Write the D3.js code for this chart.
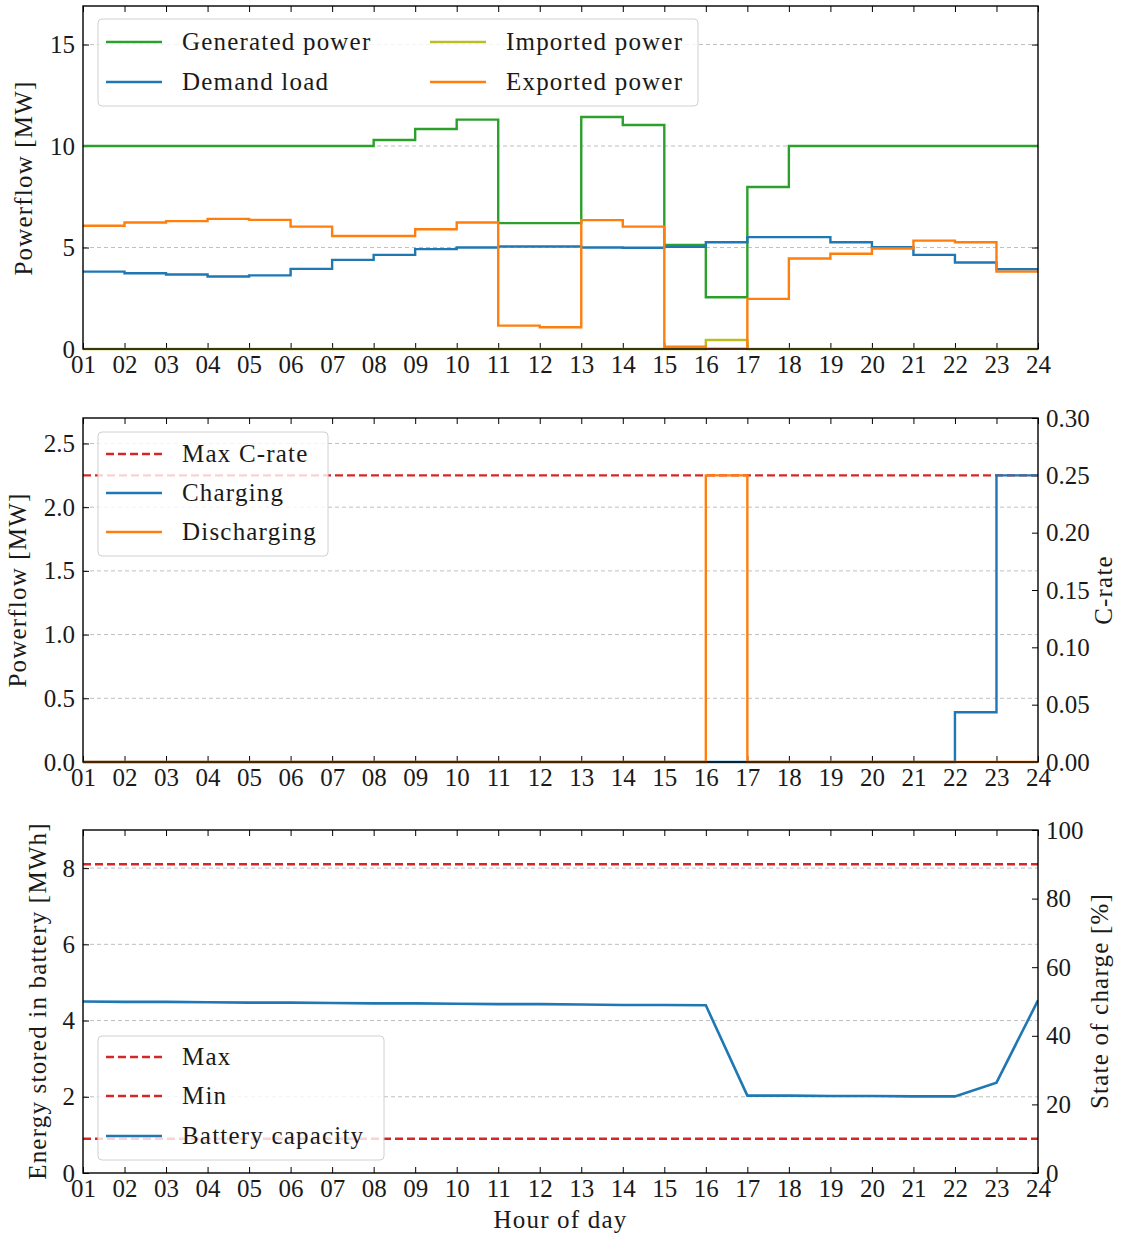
<!DOCTYPE html>
<head>
    <script src="https://d3js.org/d3.v7.min.js"></script>
    <style>
        body { margin: 0; background: #fff; }
        text { font-family: "Liberation Serif", "DejaVu Serif", serif; fill: #1a1a1a; }
        .lbl { letter-spacing: 1.2px; }
    </style>
</head>

<body>
    <div id="chart"></div>
</body>

<script>
    // hours on the x axis
    const hours = [1,2,3,4,5,6,7,8,9,10,11,12,13,14,15,16,17,18,19,20,21,22,23,24];

    // panel 1: powerflow [MW]
    const generated = [10,10,10,10,10,10,10,10.3,10.84,11.3,6.2,6.2,11.43,11.04,5.13,2.55,7.98,10,10,10,10,10,10,10];
    const demand    = [3.81,3.73,3.67,3.57,3.63,3.95,4.39,4.64,4.92,5.0,5.05,5.05,5.0,4.99,5.03,5.26,5.51,5.51,5.26,5.02,4.64,4.26,3.93,3.93];
    const imported  = [0,0,0,0,0,0,0,0,0,0,0,0,0,0,0,0.44,0,0,0,0,0,0,0,0];
    const exported  = [6.07,6.23,6.30,6.41,6.36,6.03,5.57,5.57,5.90,6.23,1.15,1.07,6.35,6.03,0.11,0.02,2.47,4.46,4.69,4.95,5.34,5.26,3.81,3.81];

    // panel 2: battery charge / discharge [MW]
    const charging    = [0,0,0,0,0,0,0,0,0,0,0,0,0,0,0,0,0,0,0,0,0,0.39,2.25,2.25];
    const discharging = [0,0,0,0,0,0,0,0,0,0,0,0,0,0,0,2.25,0,0,0,0,0,0,0,0];
    const maxCrate = 2.25;

    // panel 3: energy stored [MWh]
    const energy = [4.50,4.49,4.49,4.48,4.47,4.47,4.46,4.45,4.45,4.44,4.43,4.43,4.42,4.41,4.41,4.40,2.03,2.03,2.02,2.02,2.01,2.01,2.37,4.53];
    const energyMax = 8.1;
    const energyMin = 0.9;

    // tick labels
    const p1Ticks = [0,5,10,15];
    const p2Ticks = [0,0.5,1.0,1.5,2.0,2.5];
    const p2RightTicks = [0,0.05,0.10,0.15,0.20,0.25,0.30];
    const p3Ticks = [0,2,4,6,8];
    const p3RightTicks = [0,20,40,60,80,100];

    const C = {green: "#2ca02c", blue: "#1f77b4", olive: "#bcbd22", orange: "#ff7f0e", red: "#d62728"};
    const W = 1126, H = 1236;
    const left = 83, right = 1038;
    const fs = 25;

    const svg = d3.select("#chart").append("svg")
        .attr("width", W).attr("height", H);

    const x = d3.scaleLinear().domain([1, 24]).range([left, right]);

    function panel(top, bottom, yDomain, yTicks, yFmt, opts) {
        const g = svg.append("g");
        const y = d3.scaleLinear().domain(yDomain).range([bottom, top]);
        const id = "clip" + top;
        svg.append("clipPath").attr("id", id).append("rect")
            .attr("x", left).attr("y", top - 2).attr("width", right - left).attr("height", bottom - top + 4);

        // grid
        g.append("g").selectAll("line").data(yTicks.filter(d => d > 0)).join("line")
            .attr("x1", left).attr("x2", right)
            .attr("y1", d => y(d)).attr("y2", d => y(d))
            .attr("stroke", "#b8b8b8").attr("stroke-width", 0.9).attr("stroke-dasharray", "4,3");

        // axes: ticks inward
        const ax = g.append("g");
        ax.append("g").attr("transform", `translate(0,${bottom})`)
            .call(d3.axisBottom(x).tickValues(hours).tickSize(-6).tickPadding(6).tickFormat(d3.format("02d")));
        ax.append("g").attr("transform", `translate(0,${top})`)
            .call(d3.axisTop(x).tickValues(hours).tickSize(-6).tickFormat(""));
        ax.append("g").attr("transform", `translate(${left},0)`)
            .call(d3.axisLeft(y).tickValues(yTicks).tickSize(-6).tickPadding(8).tickFormat(yFmt));
        let yr = y;
        if (opts.right) {
            yr = d3.scaleLinear().domain(opts.right.domain).range([bottom, top]);
            ax.append("g").attr("transform", `translate(${right},0)`)
                .call(d3.axisRight(yr).tickValues(opts.right.ticks).tickSize(-6).tickPadding(8).tickFormat(opts.right.fmt));
        } else {
            ax.append("g").attr("transform", `translate(${right},0)`)
                .call(d3.axisRight(y).tickValues(yTicks).tickSize(-6).tickFormat(""));
        }
        ax.selectAll(".domain").remove();
        ax.selectAll(".tick line").attr("stroke", "#000").attr("stroke-width", 1);
        ax.selectAll(".tick text").style("font-size", fs + "px").attr("fill", "#1a1a1a");

        const plot = g.append("g").attr("clip-path", `url(#${id})`);
        return {g, y, yr, plot, top, bottom};
    }

    function frame(p) {
        p.g.append("rect").attr("x", left).attr("y", p.top)
            .attr("width", right - left).attr("height", p.bottom - p.top)
            .attr("fill", "none").attr("stroke", "#000").attr("stroke-width", 1.4);
    }

    function stepLine(p, vals, color) {
        const line = d3.line().x((d, i) => x(hours[i])).y(d => p.y(d)).curve(d3.curveStepAfter);
        p.plot.append("path").datum(vals).attr("d", line)
            .attr("fill", "none").attr("stroke", color).attr("stroke-width", 2.4);
    }

    function hline(p, v, color) {
        p.plot.append("line").attr("x1", left).attr("x2", right)
            .attr("y1", p.y(v)).attr("y2", p.y(v))
            .attr("stroke", color).attr("stroke-width", 2.4).attr("stroke-dasharray", "8,4");
    }

    function legend(p, box, items) {
        const lg = p.g.append("g");
        lg.append("rect").attr("x", box.x).attr("y", box.y).attr("width", box.w).attr("height", box.h)
            .attr("rx", 4).attr("fill", "#fff").attr("fill-opacity", 0.8)
            .attr("stroke", "#d0d0d0").attr("stroke-width", 1);
        items.forEach(it => {
            lg.append("line").attr("x1", it.x).attr("x2", it.x + 56).attr("y1", it.y).attr("y2", it.y)
                .attr("stroke", it.color).attr("stroke-width", 2.4)
                .attr("stroke-dasharray", it.dash ? "8,4" : null);
            lg.append("text").attr("class", "lbl").attr("x", it.x + 76).attr("y", it.y).attr("dy", "0.33em")
                .style("font-size", fs + "px").text(it.label);
        });
    }

    function yLabel(xPos, yPos, label) {
        svg.append("text").attr("class", "lbl").attr("transform", `translate(${xPos},${yPos}) rotate(-90)`)
            .attr("text-anchor", "middle").style("font-size", fs + "px").text(label);
    }

    // ---- panel 1
    const p1 = panel(6, 349, [0, 16.9], p1Ticks, d3.format("d"), {});
    stepLine(p1, generated, C.green);
    stepLine(p1, demand, C.blue);
    stepLine(p1, imported, C.olive);
    stepLine(p1, exported, C.orange);
    frame(p1);
    legend(p1, {x: 98, y: 19, w: 600, h: 87}, [
        {x: 106, y: 42, color: C.green, label: "Generated power"},
        {x: 106, y: 82, color: C.blue, label: "Demand load"},
        {x: 430, y: 42, color: C.olive, label: "Imported power"},
        {x: 430, y: 82, color: C.orange, label: "Exported power"}
    ]);
    yLabel(32, 178, "Powerflow [MW]");

    // ---- panel 2
    const p2 = panel(418, 762, [0, 2.7], p2Ticks, d3.format(".1f"),
        {right: {domain: [0, 0.30], ticks: p2RightTicks, fmt: d3.format(".2f")}});
    hline(p2, maxCrate, C.red);
    stepLine(p2, charging, C.blue);
    stepLine(p2, discharging, C.orange);
    frame(p2);
    legend(p2, {x: 98, y: 432, w: 230, h: 124}, [
        {x: 106, y: 454, color: C.red, dash: true, label: "Max C-rate"},
        {x: 106, y: 493, color: C.blue, label: "Charging"},
        {x: 106, y: 532, color: C.orange, label: "Discharging"}
    ]);
    yLabel(26, 590, "Powerflow [MW]");
    svg.append("text").attr("class", "lbl").attr("transform", "translate(1112,590) rotate(-90)")
        .attr("text-anchor", "middle").style("font-size", fs + "px").text("C-rate");

    // ---- panel 3
    const p3 = panel(830, 1173, [0, 9], p3Ticks, d3.format("d"),
        {right: {domain: [0, 100], ticks: p3RightTicks, fmt: d3.format("d")}});
    hline(p3, energyMax, C.red);
    hline(p3, energyMin, C.red);
    const eLine = d3.line().x((d, i) => x(hours[i])).y(d => p3.y(d));
    p3.plot.append("path").datum(energy).attr("d", eLine)
        .attr("fill", "none").attr("stroke", C.blue).attr("stroke-width", 2.6);
    frame(p3);
    legend(p3, {x: 98, y: 1036, w: 286, h: 124}, [
        {x: 106, y: 1057, color: C.red, dash: true, label: "Max"},
        {x: 106, y: 1096, color: C.red, dash: true, label: "Min"},
        {x: 106, y: 1136, color: C.blue, label: "Battery capacity"}
    ]);
    yLabel(46, 1001, "Energy stored in battery [MWh]");
    svg.append("text").attr("class", "lbl").attr("transform", "translate(1108,1001) rotate(-90)")
        .attr("text-anchor", "middle").style("font-size", fs + "px").text("State of charge [%]");

    svg.append("text").attr("class", "lbl").attr("x", (left + right) / 2).attr("y", 1228)
        .attr("text-anchor", "middle").style("font-size", fs + "px").text("Hour of day");
</script>
</html>
